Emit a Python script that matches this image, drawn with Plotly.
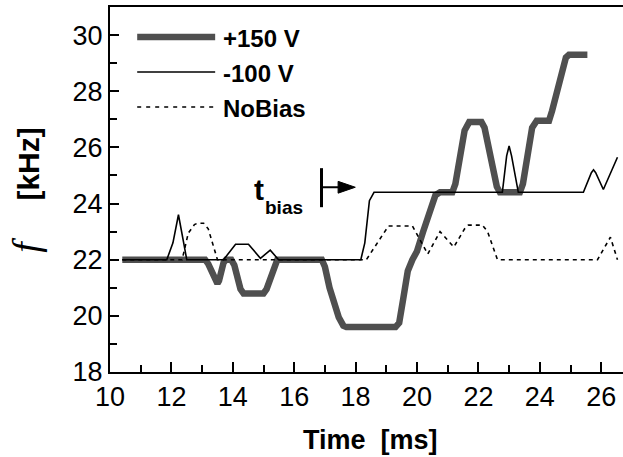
import plotly.graph_objects as go

# ---- data ----
t_p150 = [10.4, 13.1, 13.2, 13.45, 13.5, 13.55, 13.7, 13.78, 13.95, 14.05, 14.25, 14.35,
          15.0, 15.1, 15.35, 15.45, 16.9, 17.0, 17.15, 17.45, 17.6, 17.7, 19.3, 19.42,
          19.55, 19.7, 19.85, 20.0, 20.2, 20.45, 20.6, 20.75, 21.15, 21.25, 21.4, 21.55,
          21.7, 22.1, 22.2, 22.45, 22.6, 22.7, 23.35, 23.45, 23.6, 23.75, 23.9, 24.3,
          24.4, 24.75, 24.85, 24.95, 25.55]
f_p150 = [22.0, 22.0, 21.85, 21.2, 21.15, 21.25, 21.9, 22.0, 22.0, 21.8, 20.95, 20.8,
          20.8, 20.95, 21.8, 22.0, 22.0, 21.75, 21.0, 19.95, 19.65, 19.6, 19.6, 19.75,
          20.6, 21.6, 22.0, 22.3, 23.0, 23.9, 24.3, 24.4, 24.4, 24.7, 25.8, 26.6,
          26.9, 26.9, 26.7, 25.4, 24.6, 24.4, 24.4, 24.7, 25.8, 26.7, 26.95, 26.95,
          27.3, 28.8, 29.2, 29.3, 29.3]

t_m100 = [10.4, 11.85, 12.05, 12.23, 12.4, 12.5, 13.7, 14.09, 14.51, 14.9, 15.22,
          15.49, 18.17, 18.3, 18.45, 18.6, 22.78, 22.92, 23.0, 23.08, 23.3, 25.42,
          25.68, 25.75, 25.82, 26.07, 26.53]
f_m100 = [22.0, 22.0, 22.6, 23.6, 22.6, 22.0, 22.0, 22.55, 22.55, 22.05, 22.34,
          22.0, 22.0, 22.6, 24.1, 24.4, 24.4, 25.7, 26.05, 25.7, 24.4, 24.4,
          25.1, 25.2, 25.1, 24.5, 25.65]

t_nob = [10.4, 12.35, 12.55, 12.75, 12.85, 13.05, 13.2, 13.5, 18.35, 18.7, 19.07,
         19.85, 20.35, 20.75, 21.2, 21.55, 21.67, 22.13, 22.3, 22.62, 25.88, 26.3, 26.53]
f_nob = [22.0, 22.0, 22.95, 23.25, 23.3, 23.3, 23.1, 22.0, 22.0, 22.6, 23.2,
         23.2, 22.2, 23.0, 22.45, 23.1, 23.23, 23.23, 23.0, 22.0, 22.0, 22.8, 22.0]

series_names = ["+150 V", "-100 V", "NoBias"]
x_ticks = [10, 12, 14, 16, 18, 20, 22, 24, 26]
y_ticks = [18, 20, 22, 24, 26, 28, 30]

t_bias = 16.89
t_bias_arrow_end = 17.99
t_bias_level = 24.58

FONT = "Liberation Sans, Arial, sans-serif"
GRAY = "#4f4f4f"

fig = go.Figure()
fig.add_trace(go.Scatter(x=t_p150, y=f_p150, mode="lines", name=series_names[0],
                         line=dict(color=GRAY, width=6.5)))
fig.add_trace(go.Scatter(x=t_m100, y=f_m100, mode="lines", name=series_names[1],
                         line=dict(color="black", width=1.6)))
fig.add_trace(go.Scatter(x=t_nob, y=f_nob, mode="lines", name=series_names[2],
                         line=dict(color="black", width=1.6, dash="4px,4px")))

# ---- manual legend ----
leg_y = [0.918, 0.822, 0.726]
leg_styles = [dict(color=GRAY, width=6.5), dict(color="black", width=1.6),
              dict(color="black", width=1.6, dash="4px,5px")]
for name, yy, st in zip(series_names, leg_y, leg_styles):
    fig.add_shape(type="line", xref="paper", yref="paper", x0=0.053, x1=0.205,
                  y0=yy, y1=yy, line=st)
    fig.add_annotation(xref="paper", yref="paper", x=0.216, y=yy - 0.004,
                       xanchor="left", yanchor="middle", showarrow=False,
                       text="<b>%s</b>" % name,
                       font=dict(family=FONT, size=24, color="black"))

# ---- t_bias marker ----
head_len = 0.56
head_half = 0.21
fig.add_shape(type="line", xref="x", yref="y", x0=t_bias, x1=t_bias,
              y0=t_bias_level - 0.71, y1=t_bias_level + 0.68,
              line=dict(color="black", width=3))
fig.add_shape(type="line", xref="x", yref="y", x0=t_bias, x1=t_bias_arrow_end - head_len + 0.05,
              y0=t_bias_level, y1=t_bias_level, line=dict(color="black", width=2))
fig.add_shape(type="path", xref="x", yref="y",
              path="M %f %f L %f %f L %f %f Z" % (
                  t_bias_arrow_end - head_len, t_bias_level + head_half,
                  t_bias_arrow_end, t_bias_level,
                  t_bias_arrow_end - head_len, t_bias_level - head_half),
              fillcolor="black", line=dict(color="black", width=1))
fig.add_annotation(x=14.64, y=24.5, xref="x", yref="y", showarrow=False,
                   xanchor="left", yanchor="middle", text="<b>t</b>",
                   font=dict(family=FONT, size=30, color="black"))
fig.add_annotation(x=14.98, y=23.85, xref="x", yref="y", showarrow=False,
                   xanchor="left", yanchor="middle", text="<b>bias</b>",
                   font=dict(family=FONT, size=19, color="black"))

# ---- axis titles ----
fig.add_annotation(xref="paper", yref="paper", x=0.507, y=-0.186,
                   xanchor="center", yanchor="middle", showarrow=False,
                   text="<b>Time  [ms]</b>",
                   font=dict(family=FONT, size=27, color="black"))
fig.add_annotation(xref="paper", yref="paper", x=-0.165, y=0.50,
                   xanchor="center", yanchor="middle", showarrow=False,
                   textangle=-90,
                   text='<span style="font-family:Liberation Serif;font-style:italic;font-size:38px">f</span>&nbsp;&nbsp;&nbsp;&nbsp;&nbsp;<b>[kHz]</b>',
                   font=dict(family=FONT, size=30, color="black"))

fig.update_xaxes(range=[10, 26.71], tickvals=x_ticks, ticktext=[str(v) for v in x_ticks],
                 ticks="inside", ticklen=10, tickwidth=2, tickcolor="black",
                 minor=dict(dtick=1, ticks="inside", ticklen=7, tickwidth=1.5, tickcolor="black"),
                 showline=True, linewidth=2, linecolor="black", mirror=True,
                 showgrid=False, zeroline=False,
                 tickfont=dict(family=FONT, size=27, color="black"))
fig.update_yaxes(range=[18, 31], tickvals=y_ticks, ticktext=[str(v) for v in y_ticks],
                 ticks="inside", ticklen=9, tickwidth=2, tickcolor="black",
                 minor=dict(dtick=1, ticks="inside", ticklen=7, tickwidth=1.5, tickcolor="black"),
                 showline=True, linewidth=2, linecolor="black",
                 showgrid=False, zeroline=False,
                 tickfont=dict(family=FONT, size=27, color="black"))

fig.update_layout(width=623, height=457, margin=dict(l=110, r=0, t=7, b=85),
                  paper_bgcolor="white", plot_bgcolor="white", showlegend=False)

fig.write_html("out.html")
